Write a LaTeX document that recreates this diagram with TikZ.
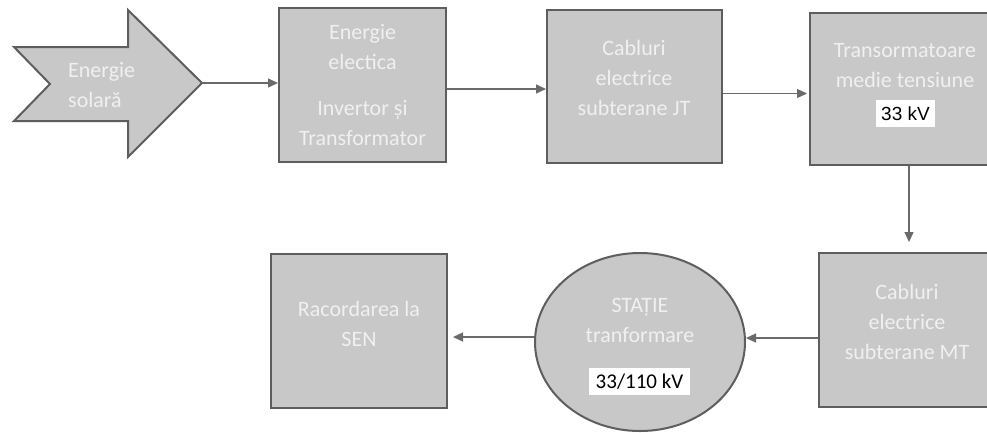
\documentclass[tikz,border=0pt]{standalone}
\usepackage{fontspec}
\setmainfont{Carlito}
\newfontfamily\arialfont{Liberation Sans}
\usetikzlibrary{arrows.meta,shapes.geometric}
\definecolor{boxfill}{HTML}{C8C8C8}
\definecolor{boxdraw}{HTML}{5E5E5E}
\definecolor{linecol}{HTML}{6A6A6A}
\definecolor{txtcol}{HTML}{F0F0F0}
\tikzset{
  stepbox/.style={draw=boxdraw,fill=boxfill,line width=2pt,rectangle,inner sep=0pt},
  lbl/.style={text=txtcol,font=\fontsize{22}{30}\selectfont,align=center,inner sep=0pt},
  valbox/.style={fill=white,text=black,inner sep=0pt,minimum height=27pt},
  arr/.style={draw=linecol,line width=1.3pt,-{Triangle[length=10pt,width=9pt]}}
}
\begin{document}
\begin{tikzpicture}[x=1pt,y=-1pt]
\clip (0,0) rectangle (987,432);
\fill[white] (0,0) rectangle (987,432);
% solar arrow shape
\draw[boxdraw,fill=boxfill,line width=2pt,line join=miter]
  (14,47) -- (128,47) -- (128,10) -- (202,83) -- (128,157) -- (128,121) -- (14,121) -- (50,84) -- cycle;
\coordinate (tip) at (202,83);
\node[lbl,align=left,anchor=west] (tsol) at (68,85) {Energie\\solară};
% boxes
\node[stepbox,minimum width=167pt,minimum height=154pt] (b1) at (362.5,85) {};
\node[stepbox,minimum width=175pt,minimum height=153pt] (b2) at (634.5,86.5) {};
\node[stepbox,minimum width=190pt,minimum height=152pt] (b3) at (905,89) {};
\node[stepbox,minimum width=176pt,minimum height=154pt] (b4) at (907,330) {};
\node[stepbox,minimum width=176pt,minimum height=154pt] (b5) at (359,331) {};
\node[draw=boxdraw,fill=boxfill,line width=2pt,ellipse,minimum width=210pt,minimum height=178pt,inner sep=0pt] (c1) at (640,342) {};
% texts
\node[lbl] (t1) at (362.5,85) {Energie\\electica\\[16pt]Invertor și\\Transformator};
\node[lbl] (t2) at (634,78) {Cabluri\\electrice\\subterane JT};
\node[lbl] (t3) at (905,66) {Transormatoare\\medie tensiune};
\node[valbox,minimum width=59pt,font=\arialfont\fontsize{19}{22}\selectfont] (v3) at (905.5,113.5) {33 kV\hspace{8pt}};
\node[lbl] (t4) at (907,322) {Cabluri\\electrice\\subterane MT};
\node[lbl] (t5) at (359,323.5) {Racordarea la\\SEN};
\node[lbl] (t6) at (640,320) {STAȚIE\\tranformare};
\node[valbox,minimum width=101pt,font=\fontsize{21}{24}\selectfont] (v6) at (639.5,381.5) {33/110 kV};
% connectors
\draw[arr] (tip) -- (tip -| b1.west);
\coordinate (a1) at ([yshift=-4pt]b1.east);
\draw[arr] (a1) -- (a1 -| b2.west);
\coordinate (a2) at ([yshift=-7pt]b2.east);
\draw[arr] (a2) -- ([xshift=-2pt]a2 -| b3.west);
\coordinate (a3) at ([xshift=4pt]b3.south);
\draw[arr] (a3) -- ([yshift=10pt]a3 |- b4.north);
\coordinate (a4) at ([yshift=-8pt]b4.west);
\draw[arr] (a4) -- (a4 -| c1.east);
\coordinate (a5) at ([yshift=5pt]c1.west);
\draw[arr] (a5) -- ([xshift=5pt]a5 -| b5.east);
\end{tikzpicture}
\end{document}
